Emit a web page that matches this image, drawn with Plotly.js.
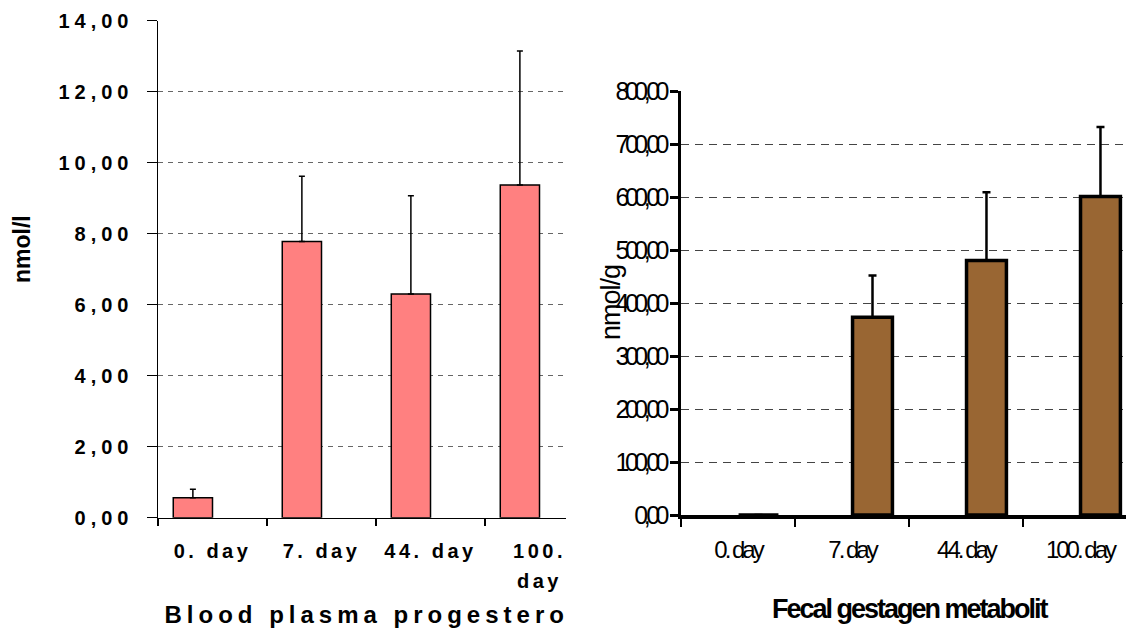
<!DOCTYPE html>
<html>
<head>
<meta charset="utf-8">
<script src="https://cdn.plot.ly/plotly-3.0.1.min.js"></script>
<style>
  html, body { margin: 0; padding: 0; background: #fff; }
  #chart { width: 1126px; height: 628px; }
  .xtick text { letter-spacing: 3.5px; }
  .ytick text { letter-spacing: 5px; }
  .x2tick text { letter-spacing: -3px; }
  .y2tick text { letter-spacing: -4.5px; }
  .annotation[data-index="0"] text { letter-spacing: 5px; }
  .annotation[data-index="2"] text { letter-spacing: -2px; }
  .annotation[data-index="3"] text { letter-spacing: -1px; }
</style>
</head>
<body>
<div id="chart"></div>
<script>
// ---- data ----
const plasmaCategories = ["0. day", "7. day", "44. day", "100. day"];
const plasmaTickText = ["0. day", "7. day", "44. day", "100.<br>day"];
const plasmaMeans = [0.56, 7.78, 6.30, 9.37];
const plasmaErrors = [0.24, 1.84, 2.77, 3.78];

const fecalCategories = ["0. day", "7. day", "44. day", "100. day"];
const fecalTickText = ["0. day", "7. day", "44. day", "100. day"];
const fecalMeans = [0, 373, 480, 601];
const fecalErrors = [0, 79, 129, 131];

const plasmaYTicks = [0, 2, 4, 6, 8, 10, 12, 14];
const fecalYTicks = [0, 100, 200, 300, 400, 500, 600, 700, 800];

const W = 1126, H = 628;
const px = v => v / W;
const py = v => (H - v) / H;

const traces = [
  {
    type: "bar", x: plasmaCategories, y: plasmaMeans,
    xaxis: "x", yaxis: "y",
    offset: -0.36, width: 0.36,
    marker: { color: "#FF8080", line: { color: "#000", width: 1.5 } },
    error_y: { type: "data", symmetric: false, array: plasmaErrors,
               arrayminus: plasmaErrors.map(() => 0), color: "#000", thickness: 1.5, width: 3 },
    hoverinfo: "skip", showlegend: false
  },
  {
    type: "bar", x: fecalCategories, y: fecalMeans,
    xaxis: "x2", yaxis: "y2",
    offset: 0.005, width: 0.35,
    marker: { color: "#996633", line: { color: "#000", width: 3.5 } },
    error_y: { type: "data", symmetric: false, array: fecalErrors,
               arrayminus: fecalErrors.map(() => 0), color: "#000", thickness: 2.5, width: 4 },
    hoverinfo: "skip", showlegend: false
  }
];

const boldFont = { family: "Liberation Sans, Arial, sans-serif", color: "#000", weight: "bold" };
const narrowFont = { family: "Liberation Sans Narrow, Liberation Sans, Arial, sans-serif", color: "#000" };
const narrowBold = { family: "Liberation Sans Narrow, Liberation Sans, Arial, sans-serif", color: "#000", weight: "bold" };

const layout = {
  width: W, height: H, autosize: false,
  margin: { l: 0, r: 0, t: 0, b: 0 },
  paper_bgcolor: "#fff", plot_bgcolor: "#fff",
  separators: ",.",
  bargap: 0,
  showlegend: false,
  xaxis: {
    domain: [px(158), px(566)], anchor: "y",
    type: "category", range: [-0.5, 3.243],
    tickmode: "array", tickvals: plasmaCategories, ticktext: plasmaTickText,
    tickson: "boundaries", ticks: "outside", ticklen: 7, tickwidth: 1.5, tickcolor: "#000",
    showline: true, linecolor: "#000", linewidth: 1.5,
    showgrid: false, zeroline: false,
    tickfont: Object.assign({ size: 20 }, boldFont),
    ticklabelstandoff: 15
  },
  yaxis: {
    domain: [py(517.7), py(20.7)], anchor: "x",
    range: [0, 14], tickmode: "array", tickvals: plasmaYTicks, tickformat: ".2f",
    ticks: "outside", ticklen: 10, tickwidth: 1.5, tickcolor: "#000",
    showline: true, linecolor: "#000", linewidth: 1.5,
    showgrid: true, gridcolor: "#666", gridwidth: 1, griddash: "5px,5px",
    zeroline: false,
    tickfont: Object.assign({ size: 20 }, boldFont),
    ticklabelstandoff: 9
  },
  xaxis2: {
    domain: [px(681), 1], anchor: "y2",
    type: "category", range: [-0.5, 3.404],
    tickmode: "array", tickvals: fecalCategories, ticktext: fecalTickText,
    tickson: "boundaries", ticks: "outside", ticklen: 8, tickwidth: 2, tickcolor: "#000",
    showline: true, linecolor: "#000", linewidth: 4,
    showgrid: false, zeroline: false,
    tickfont: Object.assign({ size: 24 }, narrowFont),
    ticklabelstandoff: 10
  },
  yaxis2: {
    domain: [py(515), py(91)], anchor: "x2",
    range: [0, 800], tickmode: "array", tickvals: fecalYTicks, tickformat: ".2f",
    ticks: "outside", ticklen: 8, tickwidth: 3, tickcolor: "#000",
    showline: true, linecolor: "#000", linewidth: 3,
    showgrid: true, gridcolor: "#444", gridwidth: 1, griddash: "8px,6px",
    zeroline: false,
    tickfont: Object.assign({ size: 25 }, narrowFont),
    ticklabelstandoff: 0
  },
  annotations: [
    { text: "Blood plasma progestero", xref: "paper", yref: "paper",
      x: px(366), y: py(614), xanchor: "center", yanchor: "middle", showarrow: false,
      font: Object.assign({ size: 24 }, boldFont) },
    { text: "nmol/l", xref: "paper", yref: "paper", textangle: -90,
      x: px(22), y: py(249), xanchor: "center", yanchor: "middle", showarrow: false,
      font: Object.assign({ size: 23 }, boldFont) },
    { text: "Fecal gestagen metabolit", xref: "paper", yref: "paper",
      x: px(910), y: py(609), xanchor: "center", yanchor: "middle", showarrow: false,
      font: Object.assign({ size: 27 }, narrowBold) },
    { text: "nmol/g", xref: "paper", yref: "paper", textangle: -90,
      x: px(611), y: py(303), xanchor: "center", yanchor: "middle", showarrow: false,
      font: Object.assign({ size: 27 }, narrowFont) }
  ]
};

Plotly.newPlot("chart", traces, layout, { staticPlot: true, displayModeBar: false }).then(function () {
  // widen the line spacing of the two-line "100. / day" tick label as in the original
  document.querySelectorAll(".xtick text tspan.line").forEach(function (t, i) {
    if (t.getAttribute("dy") && t.getAttribute("dy") !== "0em") t.setAttribute("dy", "1.5em");
  });
});
</script>
</body>
</html>
